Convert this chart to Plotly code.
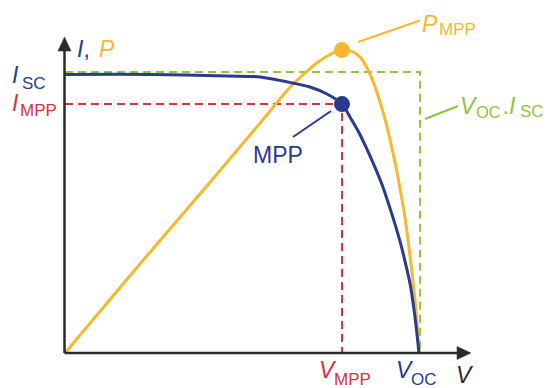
import plotly.graph_objects as go

# ---------------- data (normalised: V / Voc, I / Isc, P on the same visual scale) -------------
V_I = [0.0, 0.240, 0.458, 0.551, 0.644, 0.692, 0.740, 0.7825, 0.805, 0.828, 0.850,
       0.873, 0.896, 0.915, 0.932, 0.949, 0.963, 0.975, 0.986, 0.994, 1.000]
I_vals = [0.995, 0.995, 0.989, 0.986, 0.964, 0.950, 0.925, 0.889, 0.843, 0.793, 0.736,
          0.671, 0.600, 0.529, 0.461, 0.386, 0.314, 0.246, 0.154, 0.071, 0.000]

V_P = [0.0, 0.209, 0.415, 0.551, 0.636, 0.678, 0.715, 0.749, 0.7825, 0.814, 0.836,
       0.856, 0.873, 0.890, 0.907, 0.921, 0.935, 0.946, 0.958, 0.969, 0.980, 0.992, 1.000]
P_vals = [0.0, 0.314, 0.618, 0.821, 0.950, 1.000, 1.039, 1.066, 1.082, 1.075, 1.054,
          1.011, 0.961, 0.896, 0.821, 0.746, 0.664, 0.589, 0.504, 0.404, 0.289, 0.146, 0.000]

V_MPP = 0.7825
I_MPP = 0.889
P_MPP = 1.082
V_OC = 1.0
I_SC = 1.0

BLUE = "#2b3990"
YELLOW = "#f5b82e"
RED = "#d8323c"
GREEN = "#8dc63f"
AXIS = "#2a2a2a"

W, H = 548, 388
# pixel mapping of the drawing (origin at px (65,353); Voc at 419 px, Isc at 73 px)
X0, XS = 65.0, 354.0
Y0, YS = 353.0, 280.0
x_range = [(0 - X0) / XS, (W - X0) / XS]
y_range = [(Y0 - H) / YS, Y0 / YS]


def px(xp, yp):
    return (xp - X0) / XS, (Y0 - yp) / YS


fig = go.Figure()

# green rectangle Voc*Isc (dashed)
fig.add_trace(go.Scatter(x=[0, V_OC * 1.003, V_OC * 1.003], y=[I_SC * 1.004, I_SC * 1.004, 0],
                         mode="lines", line=dict(color=GREEN, width=2, dash="8px,5px"),
                         hoverinfo="skip"))
# red dashed MPP guides
fig.add_trace(go.Scatter(x=[0, V_MPP, V_MPP], y=[I_MPP, I_MPP, 0],
                         mode="lines", line=dict(color=RED, width=2, dash="8px,5px"),
                         hoverinfo="skip"))
# P curve
fig.add_trace(go.Scatter(x=V_P, y=P_vals, mode="lines",
                         line=dict(color=YELLOW, width=3, shape="spline", smoothing=0.8),
                         hoverinfo="skip"))
# I curve
fig.add_trace(go.Scatter(x=V_I, y=I_vals, mode="lines",
                         line=dict(color=BLUE, width=3, shape="spline", smoothing=0.8),
                         hoverinfo="skip"))
# MPP dots
fig.add_trace(go.Scatter(x=[V_MPP], y=[I_MPP], mode="markers",
                         marker=dict(color=BLUE, size=16, line=dict(width=0)), hoverinfo="skip"))
fig.add_trace(go.Scatter(x=[V_MPP], y=[P_MPP], mode="markers",
                         marker=dict(color=YELLOW, size=16, line=dict(width=0)), hoverinfo="skip"))

shapes = []
# axes
ax0 = px(64.5, 353)
shapes.append(dict(type="line", x0=ax0[0], y0=ax0[1], x1=px(460, 353)[0], y1=ax0[1],
                   line=dict(color=AXIS, width=2.5)))
shapes.append(dict(type="line", x0=ax0[0], y0=ax0[1], x1=ax0[0], y1=px(64.5, 48)[1],
                   line=dict(color=AXIS, width=2.5)))


def tri(pts, color):
    d = "M " + " L ".join(f"{px(a, b)[0]},{px(a, b)[1]}" for a, b in pts) + " Z"
    return dict(type="path", path=d, fillcolor=color, line=dict(color=color, width=0.5))


shapes.append(tri([(471, 353), (457, 346.5), (457, 359.5)], AXIS))
shapes.append(tri([(64.5, 37), (58, 51), (71, 51)], AXIS))
# leader lines
for (a, b, c, d, col) in [(358, 42, 420, 20.5, YELLOW), (425, 119, 458, 106, GREEN),
                          (293, 137, 331, 111, BLUE)]:
    p0, p1 = px(a, b), px(c, d)
    shapes.append(dict(type="line", x0=p0[0], y0=p0[1], x1=p1[0], y1=p1[1],
                       line=dict(color=col, width=2)))

FONT = "Liberation Sans, Arial, sans-serif"
BIG, SUB = 23, 17
annotations = []


def label(text, left, cy, size, color):
    annotations.append(dict(text=text, xref="paper", yref="paper", x=left / W, y=1 - cy / H,
                            xanchor="left", yanchor="middle", showarrow=False,
                            font=dict(family=FONT, size=size, color=color), borderpad=0))


label("<i>I</i>,", 76, 49, BIG, BLUE)
label("<i>P</i>", 98, 49, BIG, YELLOW)
label("<i>I</i>", 11, 75, BIG, BLUE)
label("SC", 21, 83, SUB, BLUE)
label("<i>I</i>", 11, 103, BIG, RED)
label("MPP", 19, 110, SUB, RED)
label("MPP", 252, 155, BIG, BLUE)
label("<i>P</i>", 421, 24, BIG, YELLOW)
label("MPP", 438, 30, SUB, YELLOW)
label("<i>V</i>", 459, 106, BIG, GREEN)
label("OC", 475, 112, 16.5, GREEN)
label("·", 501, 111, BIG, GREEN)
label("<i>I</i>", 508, 106, BIG, GREEN)
label("SC", 519, 112, 17, GREEN)
label("<i>V</i>", 318, 370, BIG, RED)
label("MPP", 333, 379, SUB, RED)
label("<i>V</i>", 395, 370, BIG, BLUE)
label("OC", 410, 379, SUB, BLUE)
label("<i>V</i>", 455, 375, BIG, AXIS)

fig.update_layout(
    width=W, height=H, margin=dict(l=0, r=0, t=0, b=0),
    paper_bgcolor="white", plot_bgcolor="white", showlegend=False,
    xaxis=dict(range=x_range, visible=False, fixedrange=True),
    yaxis=dict(range=y_range, visible=False, fixedrange=True),
    shapes=shapes, annotations=annotations,
)

fig.write_html("out.html", config={"displayModeBar": False},
               post_script="document.body.style.margin='0px';document.body.style.overflow='hidden';")
